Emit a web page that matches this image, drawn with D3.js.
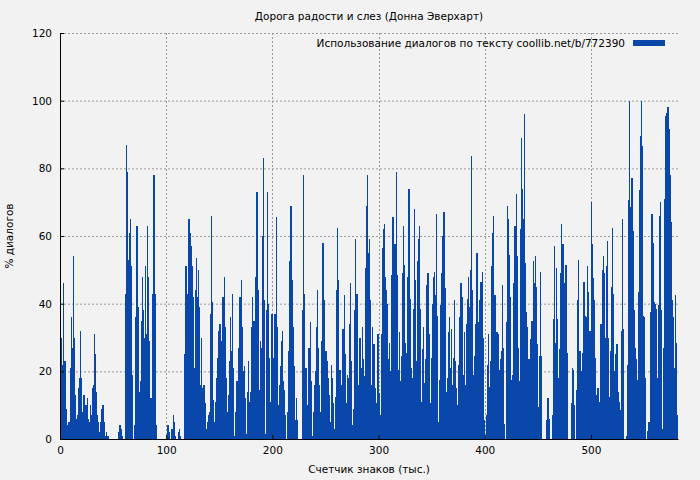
<!DOCTYPE html>
<html><head><meta charset="utf-8">
<script src="https://cdn.jsdelivr.net/npm/d3@7"></script>
<style>body{margin:0;background:#f2f2f2}svg{display:block}text{font-family:"DejaVu Sans",sans-serif;font-size:10.5px;fill:#000}</style>
</head><body><svg id="c" width="700" height="480"></svg>
<script>
const title = "Дорога радости и слез (Донна Эверхарт)";
const legendLabel = "Использование диалогов по тексту coollib.net/b/772390";
const xLabel = "Счетчик знаков (тыс.)";
const yLabel = "% диалогов";
const xTicks = [0,100,200,300,400,500];
const yTicks = [0,20,40,60,80,100,120];
const seg1 = [14,30,22,46,23,9,4,2,5,21,36,27,54,30,13,6,7,15,18,32,18,8,13,8,10,12,6,5,10,7,15,16,31,25,14,7,5,2,5,9,10,5,1,2,1,1,
 0,0,0,0,0,0,0,0,0,2,4,3,1,0,0,
 43,87,79,53,61,65,51,19,0,4,36,63,39,14,17,35,48,38,30,51,31,63,48,29,12,7,43,78,43,4,
 0,0,0,0,0,0,0];
const seg2 = [0,0,0,4,2,0,0,3,7,5,1,0,0,2,3,1,0,0,0,
 25,51,43,32,65,61,57,51,42,
 21,44,53.5,42,50,39,16,30,15,
 16,10.5,3,5,7,8,37,66,40.5,
 11.5,5,11,18,24,32,34,21,29,
 42,48,33,18,8,13,23,36,26,
 43,21,1,8,17,14,27,42,47,33,
 20,21.5,12,1.5,14,23,11,14,33,
 42,35,15,48,73,44,14.5,29,27,
 60,83,41,1.5,38,73,40,24,11];
const seg3 = [37,24,11,37,65.5,33,10,16,21.5,29,
 32,17,14.5,7,0,8,26,52.5,69,47,
 33,21.5,5.5,12,5.5,0,0,0,0,
 38,78,43,21,10,10,27,34.5,17,
 1,8,16,20,33,44,27,16,8,
 29,58,41,19.5,26,23,18,13,5,
 22,18,10.5,3,12.5,44,62.5,47,20.5,5,
 16,32.5,42.5,25,10.5,19,18,34,
 46,23,4,9,38,59,43,14,16,30,
 21,33,23.5,18.5,50.5,69,78,55,59,
 41,16,33,28,15,6,10.5,31];
const seg4 = [13.5,7,31,56.5,62,63.5,48,44,40,
 23.5,28.5,20,48.5,65.5,37.5,57.5,79,48.5,20.5,
 31.5,17,24.5,49,63,51.5,28.5,25.5,48,
 74,41.5,21,18,38.5,68,47,23,52.5,
 59,63,38.5,11,26.5,33,16.5,23.5,45.5,
 49,31,10.5,24,40,48,49.5,42.5,66.5,
 36.5,5,17.5,39.5,49,60,67,44.5,14,18,
 31.5,36,21,32.5,16,24,41,23,15,
 10,22,36,46,42,19,31.5,16,34,
 41.5,48,39,50,83.5,44,19,24.5,34,55,
 34.5,33.5,41,46.5,49.5,30,5.5,0];
const seg5 = [7,22,31,15.5,23,51,61,66,42.5,23.5,
 31.5,31,20.5,23.5,26,45.5,27,4.5,0,
 34.5,69,65,54.5,42,17.5,19,46,63,
 72.5,54,27,17,62,89,74,65,96,
 52,37.5,33,23.5,15.5,29.5,35,52.5,46,
 54,45,28,9.5,24.5,49.5,24.5,0,0,0,
 0,5.5,12,6,0,0,7,35.5,57,
 28.5,50.5,35.5,18,26.5,49,63.5,57.5,46,36.5,
 51.5,25.5,0,0,0,10.5,21,20.5,10,
 0,14.5,41,53,26,20,15,25.5,46.5,
 36.5,36,51,43.5,32];
const seg6 = [32,70,57.5,47.5,41,24,13,15,11,3.5,
 34,50,54,49,30,51,58.5,30,12.5,
 26,45,62.5,43,20,25,28,14,11,8.5,
 32,65,32.5,0,0,1,22,70.5,100,
 68.5,77,61.5,38,27,23.5,17.5,43.5,73.5,89.5,
 100,86.5,36.5,36,18,0,2.5,5,4,
 37.5,66.5,58,40.5,40,38.5,18,39.5,66,70,
 38,3,27,71,95.5,96.5,98,91.5,78,64,
 41,36,21,42.5,28.5,7];
const values = [].concat(seg1,seg2,seg3,seg4,seg5,seg6);

const svg = d3.select("#c");
const L=60,R=678,T=33,B=439;
const x = d3.scaleLinear().domain([0,582]).range([L,R]);
const y = d3.scaleLinear().domain([0,120]).range([B,T]);

svg.append("g").selectAll("line").data(yTicks.slice(1)).join("line")
 .attr("x1",L).attr("x2",R).attr("y1",d=>y(d)+0.5).attr("y2",d=>y(d)+0.5)
 .attr("stroke","#999").attr("stroke-dasharray","2,2");
svg.append("g").selectAll("line").data(xTicks.slice(1)).join("line")
 .attr("x1",d=>Math.round(x(d))+0.5).attr("x2",d=>Math.round(x(d))+0.5).attr("y1",T).attr("y2",B)
 .attr("stroke","#999").attr("stroke-dasharray","2,2");

const bw = x(1)-x(0);
svg.append("g").attr("shape-rendering","crispEdges").selectAll("rect").data(values).join("rect")
 .attr("x",(d,i)=>x(i)).attr("width",bw+0.2)
 .attr("y",d=>y(d)).attr("height",d=>B-y(d))
 .attr("fill","#0a47ab");

const xa = svg.append("g").attr("transform",`translate(0,${B})`)
 .call(d3.axisBottom(x).tickValues(xTicks).tickSize(4).tickSizeOuter(0));
const ya = svg.append("g").attr("transform",`translate(${L},0)`)
 .call(d3.axisLeft(y).tickValues(yTicks).tickSize(4).tickSizeOuter(0));
[xa,ya].forEach(a=>{a.selectAll("text").style("font-family","DejaVu Sans").style("font-size","10.5px");a.select(".domain").attr("stroke","#000");});
ya.selectAll(".tick line").attr("x2",4).attr("x1",0);
ya.selectAll("text").attr("x",-8);
xa.selectAll(".tick line").attr("y1",0).attr("y2",-4);
xa.selectAll("text").attr("y",8);

svg.append("text").attr("x",369).attr("y",20).attr("text-anchor","middle").text(title);
svg.append("text").attr("x",369).attr("y",473).attr("text-anchor","middle").text(xLabel);
svg.append("text").attr("transform","translate(13,236) rotate(-90)").attr("text-anchor","middle").text(yLabel);
svg.append("text").attr("x",625).attr("y",47).attr("text-anchor","end").text(legendLabel);
svg.append("rect").attr("x",633).attr("y",40).attr("width",32).attr("height",6).attr("fill","#0a47ab");
</script></body></html>
